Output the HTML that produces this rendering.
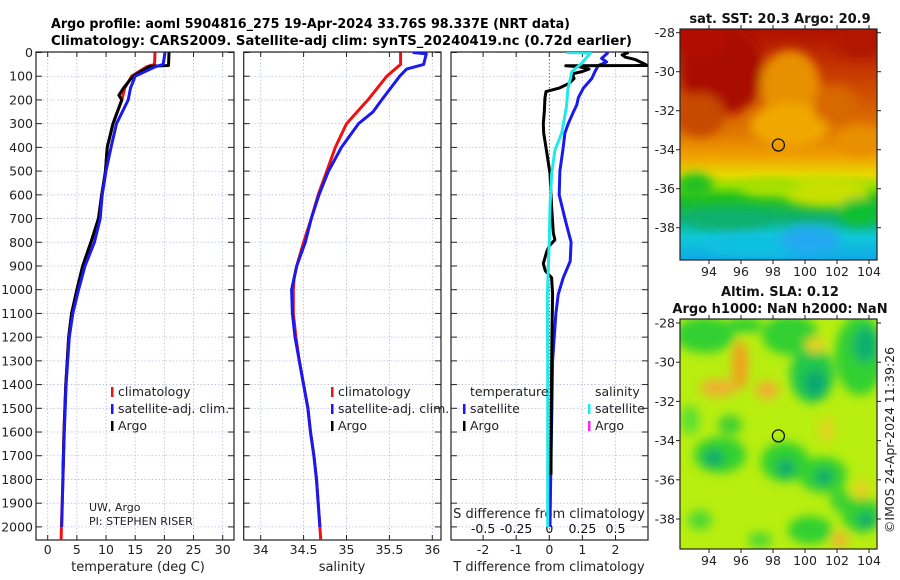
<!DOCTYPE html>
<html><head><meta charset="utf-8"><style>
html,body{margin:0;padding:0;background:#fff;}
svg{display:block;font-family:"DejaVu Sans","Liberation Sans",sans-serif;}
</style></head><body>
<svg id="fig" width="900" height="580" viewBox="0 0 900 580" xmlns="http://www.w3.org/2000/svg">
<defs>
<clipPath id="c1"><rect x="36" y="52" width="198" height="488"/></clipPath>
<clipPath id="c2"><rect x="243.7" y="52" width="197.3" height="488"/></clipPath>
<clipPath id="c3"><rect x="451" y="52" width="197" height="488"/></clipPath>
<clipPath id="cm1"><rect x="680" y="29" width="197" height="231"/></clipPath>
<clipPath id="cm2"><rect x="680" y="319" width="197" height="230"/></clipPath>
<linearGradient id="sstg" x1="0" y1="0" x2="0" y2="1">
<stop offset="0" stop-color="#b01000"/><stop offset="0.2" stop-color="#c83c00"/>
<stop offset="0.45" stop-color="#e07800"/><stop offset="0.55" stop-color="#f0a000"/>
<stop offset="0.63" stop-color="#e8d800"/><stop offset="0.68" stop-color="#90e000"/>
<stop offset="0.73" stop-color="#20c020"/><stop offset="0.82" stop-color="#10b070"/>
<stop offset="0.9" stop-color="#10c8d8"/><stop offset="1" stop-color="#10a8e8"/>
</linearGradient>
<filter id="bl" x="-50%" y="-50%" width="200%" height="200%"><feGaussianBlur stdDeviation="5"/></filter>
</defs>
<g id="titles" font-weight="bold" font-size="13" text-anchor="start">
<text x="51" y="28" textLength="519" lengthAdjust="spacingAndGlyphs">Argo profile: aoml 5904816_275 19-Apr-2024 33.76S 98.337E (NRT data)</text>
<text x="51" y="45" textLength="581" lengthAdjust="spacingAndGlyphs">Climatology: CARS2009. Satellite-adj clim: synTS_20240419.nc (0.72d earlier)</text>
</g>
<g id="panels"></g>
<g id="maps"></g>
</svg>
<script>
// ---- data ----
const tDepth=[0,50,60,100,150,200,300,400,500,600,700,800,850,900,1000,1100,1200,1400,1600,1800,2000,2060];
const tClim=[18.4,18.3,17.0,14.4,13.2,12.7,11.2,10.2,9.9,9.25,8.7,7.4,6.7,6.0,5.0,4.1,3.6,3.1,2.8,2.6,2.35,2.3];
const tSatDepth=[0,50,60,100,150,200,300,400,500,600,700,800,900,1000,1100,1200,1400,1600,1800,2000];
const tSat=[20.1,19.8,18.5,15.0,14.2,13.8,11.8,10.85,10.0,9.35,9.0,8.0,6.4,5.3,4.3,3.7,3.15,2.85,2.6,2.4];
const tArgoDepth=[0,55,58,100,150,180,200,300,400,500,600,700,800,850,900,1000,1100,1200,1400,1600,1780];
const tArgo=[20.8,20.7,17.5,14.6,13.0,12.2,12.7,11.2,10.2,9.9,9.25,8.7,7.4,6.7,6.0,5.0,4.1,3.6,3.1,2.8,2.6];
const sDepth=[0,50,100,200,300,400,500,600,700,800,900,950,1000,1100,1200,1300,1400,1500,1600,1700,1800,1900,2000,2060];
const sClim=[35.63,35.63,35.47,35.25,35.0,34.87,34.77,34.67,34.59,34.5,34.42,34.39,34.38,34.38,34.41,34.45,34.5,34.55,34.58,34.62,34.65,34.67,34.69,34.7];
const sSatDepth=[0,5,50,70,100,200,250,300,400,500,600,700,800,900,1000,1100,1200,1300,1400,1500,1600,1700,1800,1900,2000];
const sSat=[35.77,35.93,35.9,35.7,35.62,35.41,35.31,35.14,34.94,34.79,34.68,34.59,34.52,34.42,34.36,34.37,34.4,34.45,34.5,34.55,34.58,34.62,34.65,34.67,34.69];
const dtSatDepth=[0,25,40,55,80,110,150,190,220,250,300,340,400,500,600,700,800,880,950,1020,1100,1300,1500,1700,2000];
const dtSat=[1.78,1.58,1.73,1.48,1.38,1.28,1.03,0.88,0.83,0.73,0.57,0.47,0.42,0.32,0.30,0.47,0.66,0.63,0.42,0.27,0.2,0.1,0.08,0.05,0.02];
const dtArgoDepth=[0,10,20,30,50,55,56,60,70,80,90,110,130,150,165,190,250,300,340,420,510,650,760,790,815,840,890,920,950,1020,1200,1500,1780];
const dtArgo=[2.4,2.2,2.3,2.6,2.9,2.95,0.5,0.9,1.2,1.0,0.7,0.75,0.6,0.3,-0.1,-0.13,-0.15,-0.18,-0.17,-0.08,0.02,0.07,0.12,0.17,0.0,-0.08,-0.18,-0.12,0.07,0.1,0.08,0.06,0.05];
const dsSatDepth=[0,2,46,81,158,228,340,411,509,650,790,1030,1300,1600,2000];
const dsSat=[0.13,0.31,0.245,0.17,0.14,0.13,0.094,0.043,0.018,0.005,0.0,-0.015,-0.012,-0.012,-0.012];
const depthTicks=[0,100,200,300,400,500,600,700,800,900,1000,1100,1200,1300,1400,1500,1600,1700,1800,1900,2000];
const tTicks=[0,5,10,15,20,25,30];
const sTicks=[34,34.5,35,35.5,36];
const sTickLabels=["34","34.5","35","35.5","36"];
const dTTicks=[-2,-1,0,1,2];
const dSTicks=[-0.5,-0.25,0,0.25,0.5];
const dSTickLabels=["-0.5","-0.25","0","0.25","0.5"];
const lonTicks=[94,96,98,100,102,104];
const latTicks=[-28,-30,-32,-34,-36,-38];
const argoLon=98.337, argoLat=-33.76;

// ---- scales ----
const yD=d=>52.5+d*0.2372;
const xT=v=>47.7+v*5.834;
const xS=v=>260.7+(v-34)*85.8;
const xDT=v=>549.3+v*33.1;
const xDS=v=>549.3+v*4*33.1;
const NS="http://www.w3.org/2000/svg";
function mk(tag,attrs,parent){const e=document.createElementNS(NS,tag);for(const k in attrs)e.setAttribute(k,attrs[k]);parent.appendChild(e);return e;}
const P=document.getElementById('panels');
const panels=[{x0:36,x1:234,clip:'c1',name:'temperature'},{x0:243.7,x1:441,clip:'c2',name:'salinity'},{x0:451,x1:648,clip:'c3',name:'difference'}];
const gridX=[tTicks.map(xT),sTicks.map(xS),dTTicks.map(xDT)];
panels.forEach((p,i)=>{
  const g=mk('g',{},P);
  
  
  depthTicks.forEach(d=>{const l=mk('line',{x1:p.x0,x2:p.x1,y1:yD(d),y2:yD(d),stroke:'#b8bce0','stroke-width':0.8,'stroke-dasharray':'1.5,2'},g);
    
    mk('line',{x1:p.x0,x2:p.x0+6,y1:yD(d),y2:yD(d),stroke:'#222'},g);
    mk('line',{x1:p.x1-6,x2:p.x1,y1:yD(d),y2:yD(d),stroke:'#222'},g);});
  gridX[i].forEach(x=>{const l=mk('line',{x1:x,x2:x,y1:52,y2:540,stroke:(i==2&&Math.abs(x-549.3)<1)?'#444':'#b8bce0','stroke-width':0.8,'stroke-dasharray':'1.5,2'},g);
    
    mk('line',{x1:x,x2:x,y1:540,y2:535,stroke:'#222'},g);mk('line',{x1:x,x2:x,y1:52,y2:57,stroke:'#222'},g);});
  const fr=mk('rect',{x:p.x0,y:52,width:p.x1-p.x0,height:488,fill:'none',stroke:'#222','stroke-width':1.2},g);
  
});
// depth labels
const yl=mk('g',{'font-size':12.5,'text-anchor':'end',fill:'#222'},P);

depthTicks.forEach(d=>{const t=mk('text',{x:33,y:yD(d)+4.5},yl);t.textContent=d;});
function xlabels(ticks,labels,fx,name){const g=mk('g',{'font-size':12.5,'text-anchor':'middle',fill:'#222'},P);
  
  ticks.forEach((v,i)=>{const t=mk('text',{x:fx(v),y:554},g);t.textContent=labels[i];});}
xlabels(tTicks,tTicks.map(String),xT,'temperature-tick-labels');
xlabels(sTicks,sTickLabels,xS,'salinity-tick-labels');
xlabels(dTTicks,dTTicks.map(String),xDT,'t-difference-tick-labels');
const dsg=mk('g',{'font-size':12.5,'text-anchor':'middle',fill:'#111'},P);

dSTicks.forEach((v,i)=>{const t=mk('text',{x:xDS(v),y:533},dsg);t.textContent=dSTickLabels[i];});
function label(txt,x,y,name,extra){const t=mk('text',Object.assign({x:x,y:y,'font-size':13,'text-anchor':'middle',fill:'#222'},extra||{}),P);t.textContent=txt;
  return t;}
label('temperature (deg C)',138,571,'temperature-axis-title');
label('salinity',342,571,'salinity-axis-title');
label('T difference from climatology',549,571,'t-difference-axis-title');
label('S difference from climatology',549,518,'s-difference-axis-title');
label('UW, Argo',89,511,'institution-label',{'font-size':11,'text-anchor':'start'});
label('PI: STEPHEN RISER',89,525,'pi-label',{'font-size':11,'text-anchor':'start'});
function line(xs,ds,fx,color,clip,name,w){const pts=xs.map((v,i)=>fx(v).toFixed(1)+','+yD(ds[i]).toFixed(1)).join(' ');
  const l=mk('polyline',{points:pts,fill:'none',stroke:color,'stroke-width':w||3,'stroke-linejoin':'round','clip-path':'url(#'+clip+')'},P);
  }
line(tClim,tDepth,xT,'#ee1111','c1','temperature-climatology-line');
line(tArgo,tArgoDepth,xT,'#000','c1','temperature-argo-line');
line(tSat,tSatDepth,xT,'#1a1aee','c1','temperature-satellite-line');
line(sClim,sDepth,xS,'#ee1111','c2','salinity-climatology-line');
line(sSat,sSatDepth,xS,'#1a1aee','c2','salinity-satellite-line');
line(dtSat,dtSatDepth,xDT,'#1a1aee','c3','t-difference-satellite-line');
line(dtArgo,dtArgoDepth,xDT,'#000','c3','t-difference-argo-line');
line(dsSat,dsSatDepth,xDS,'#22e8e8','c3','s-difference-satellite-line');
// legends
function leg(x,y,color,txt,name){const g=mk('g',{},P);
  if(color)mk('rect',{x:x-7,y:y-9,width:2.5,height:10,fill:color},g);
  const t=mk('text',{x:x,y:y,'font-size':12.5,fill:'#222'},g);t.textContent=txt;}
leg(118,396,'#ee1111','climatology','legend-climatology');
leg(118,413,'#1a1aee','satellite-adj. clim.','legend-satellite-adj');
leg(118,430,'#000','Argo','legend-argo');
leg(338,396,'#ee1111','climatology','legend-climatology-2');
leg(338,413,'#1a1aee','satellite-adj. clim.','legend-satellite-adj-2');
leg(338,430,'#000','Argo','legend-argo-2');
leg(470,396,null,'temperature','legend-temperature-header');
leg(470,413,'#1a1aee','satellite','legend-t-satellite');
leg(470,430,'#000','Argo','legend-t-argo');
leg(595,396,null,'salinity','legend-salinity-header');
leg(595,413,'#22e8e8','satellite','legend-s-satellite');
leg(595,430,'#ff22ee','Argo','legend-s-argo');

// ---- maps ----
const M=document.getElementById('maps');
function mapAxes(y0,y1,latY,name){const g=mk('g',{'font-size':12.5,fill:'#222'},M);
  
  mk('rect',{x:680,y:y0,width:197,height:y1-y0,fill:'none',stroke:'#222','stroke-width':1.2},g);
  lonTicks.forEach(v=>{const x=709+(v-94)*16;mk('line',{x1:x,x2:x,y1:y1,y2:y1+4,stroke:'#222'},g);mk('line',{x1:x,x2:x,y1:y0,y2:y0-4,stroke:'#222'},g);
    const t=mk('text',{x:x,y:y1+16,'text-anchor':'middle'},g);t.textContent=v;});
  latTicks.forEach(v=>{const y=latY(v);mk('line',{x1:676,x2:680,y1:y,y2:y,stroke:'#222'},g);mk('line',{x1:877,x2:881,y1:y,y2:y,stroke:'#222'},g);
    const t=mk('text',{x:675,y:y+4.5,'text-anchor':'end'},g);t.textContent=v;});}
const lat1=v=>32.7+(-28-v)*19.5, lat2=v=>323+(-28-v)*19.6;
// SST map
let g1=mk('g',{'clip-path':'url(#cm1)'},M);

mk('rect',{x:680,y:29,width:197,height:231,fill:'url(#sstg)'},g1);
const gb1=mk('g',{filter:'url(#bl)'},g1);
[[722,70,42,45,'#a80800'],[700,40,30,18,'#b01000'],[860,40,25,18,'#b01800'],[790,85,30,35,'#e89000'],[790,125,40,22,'#f0a800'],[835,105,22,20,'#d86800'],
 [860,140,25,15,'#e89000'],[700,115,25,22,'#c84a00'],[825,192,45,15,'#c8e000'],[770,188,30,9,'#a8e000'],[695,185,18,12,'#20c020'],
 [860,212,22,14,'#10c030'],[760,245,60,12,'#10c0e0'],[810,240,30,15,'#20a8f0'],[730,220,40,10,'#10b070']].forEach(b=>mk('ellipse',{cx:b[0],cy:b[1],rx:b[2],ry:b[3],fill:b[4]},gb1));
mapAxes(29,260,lat1,'sst-map-axes');
// SLA map
let g2=mk('g',{'clip-path':'url(#cm2)'},M);

mk('rect',{x:680,y:319,width:197,height:230,fill:'#b8ee10'},g2);
const gb2=mk('g',{filter:'url(#bl)'},g2);
[[705,335,30,18,'#30d030'],[790,335,28,20,'#30d030'],[745,325,18,8,'#30d030'],[860,355,25,40,'#30d030'],[812,375,22,28,'#20c848'],[815,383,11,14,'#10a870'],
 [865,345,12,18,'#10b070'],[720,455,26,18,'#30d030'],[714,458,10,8,'#10a870'],[785,462,24,20,'#30d030'],[786,468,9,9,'#10a870'],
 [823,475,24,18,'#30d030'],[824,477,9,8,'#10a870'],[862,515,20,18,'#30d030'],[866,520,8,8,'#10a870'],[810,530,22,14,'#30d030'],[700,520,12,10,'#50d830'],
 [730,425,12,10,'#40d030'],[690,420,10,15,'#60e030'],[840,500,10,12,'#40d030'],[760,540,12,8,'#50d830'],
 [740,365,8,25,'#f0a020'],[718,388,18,9,'#f0b030'],[767,390,12,9,'#f0b030'],[827,430,7,12,'#e8d020'],[840,540,8,8,'#f0b030'],[815,345,10,8,'#e8d020'],[862,490,8,10,'#e8d020']
].forEach(b=>mk('ellipse',{cx:b[0],cy:b[1],rx:b[2],ry:b[3],fill:b[4]},gb2));
mapAxes(319,549,lat2,'sla-map-axes');
const m1=mk('circle',{cx:709+(argoLon-94)*16,cy:lat1(argoLat),r:6,fill:'none',stroke:'#111','stroke-width':1.3},M);

const m2=mk('circle',{cx:709+(argoLon-94)*16,cy:lat2(argoLat),r:6,fill:'none',stroke:'#111','stroke-width':1.3},M);

function mt(txt,x,y,name){const t=mk('text',{x:x,y:y,'font-size':13,'font-weight':'bold','text-anchor':'middle',fill:'#111'},M);t.textContent=txt;
  }
mt('sat. SST: 20.3 Argo: 20.9',780,23,'sst-map-title');
mt('Altim. SLA: 0.12',780,296,'sla-map-title');
mt('Argo h1000: NaN h2000: NaN',780,313,'sla-map-subtitle');
const ts=mk('text',{x:0,y:0,'font-size':12.5,'text-anchor':'middle',fill:'#222',transform:'translate(894,440) rotate(-90)'},M);
ts.textContent='©IMOS 24-Apr-2024 11:39:26';


</script>
</body></html>
